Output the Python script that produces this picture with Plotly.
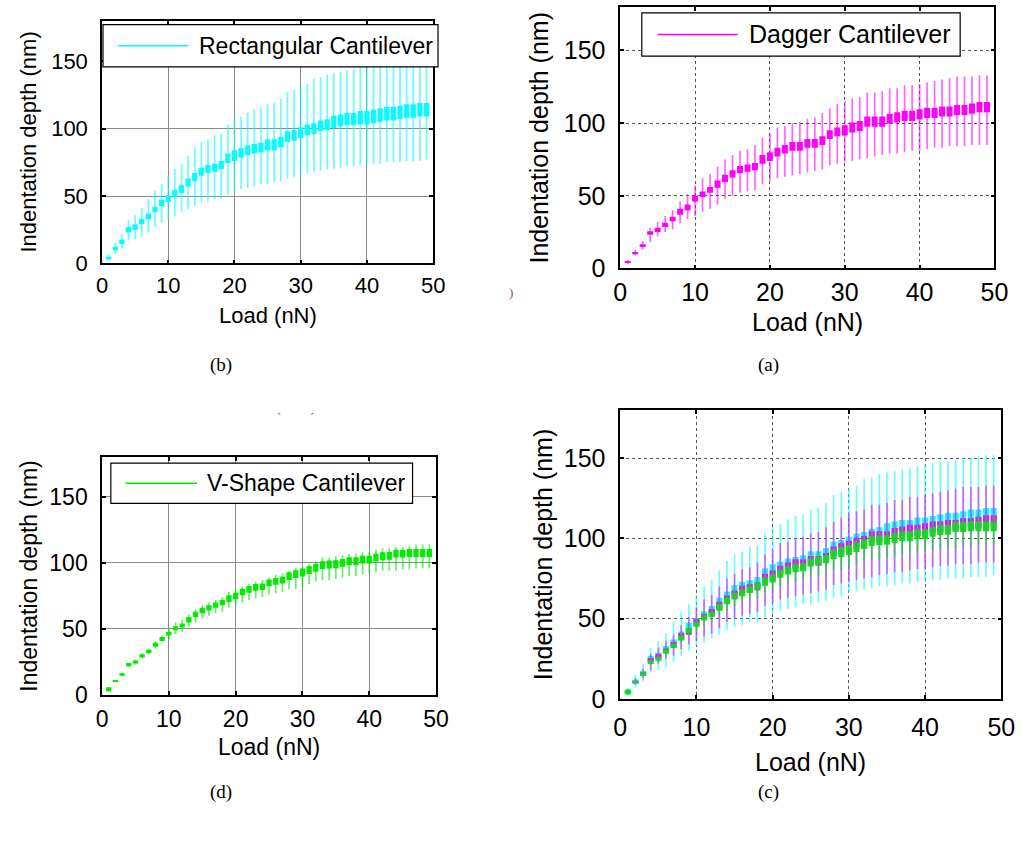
import plotly.graph_objects as go
from plotly.subplots import make_subplots

# figure a little smaller than the 1033x845 window so the page never scrolls
W, H = 1030, 830


def px(x):
    return x / W


def py(y):
    return 1 - y / H


# loads (nN)
loads = list(range(1, 50))

# Rectangular cantilever (cyan): whisker low, box q1, box q3, whisker high
rect_lo = [2, 7, 11, 17, 18, 20, 23, 27, 30, 33, 35, 38, 40, 43, 45, 46, 48, 48, 51, 53,
           55, 56, 57, 59, 59, 60, 61, 63, 64, 66, 67, 68, 69, 70, 70, 71, 72, 72, 73, 73,
           74, 74, 75, 75, 75, 76, 76, 76, 77]
rect_q1 = [3, 9.8, 14.5, 23, 25, 29, 33, 38, 42.5, 45.5, 49.5, 52, 57, 61, 65, 67, 68, 70, 74.5, 76,
           78.5, 80.5, 81.5, 82.5, 84, 84, 86, 90, 91, 93, 95, 96, 98, 99, 100.5, 101.5, 102.5, 102.5, 103, 103,
           104, 105, 106, 106, 107, 108, 108, 109, 109]
rect_q3 = [5, 12.2, 17.5, 27, 29, 33, 37, 42, 47.5, 50.5, 54.5, 58, 63, 67, 71, 73, 74, 76, 81.5, 84,
           85.5, 87.5, 88.5, 89.5, 92, 92, 94, 98, 99, 101, 103, 104, 106, 107, 109.5, 110.5, 111.5, 111.5, 113, 113,
           114, 115, 116, 116, 117, 118, 118, 119, 119]
rect_hi = [7, 15, 22, 32, 36, 41, 48, 54, 59, 65, 70, 74, 80, 86, 90, 92, 95, 96, 103, 107,
           109, 112, 114, 115, 118, 119, 122, 127, 129, 131, 133, 137, 138, 140, 141, 142, 143, 144, 145, 146,
           147, 148, 148, 149, 150, 150, 151, 152, 152]

# Dagger cantilever (magenta)
dag_lo = [3, 9, 13, 18, 22, 25, 27, 31, 34, 36, 39, 41, 44, 48, 50, 52, 53, 54, 58, 60,
          62, 63, 64, 65, 66, 67, 68, 71, 72, 73, 74, 75, 76, 77, 78, 79, 79, 80, 81, 81,
          82, 83, 83, 84, 84, 84, 85, 85, 85]
dag_q1 = [3.9, 9.7, 14.7, 23.1, 25, 28.5, 32.5, 37, 40, 46, 49, 52, 55.5, 59.5, 62.5, 65.5, 66.5, 67.5, 72, 74,
          77, 79, 81, 81, 83, 83, 85, 89, 91, 91.5, 93.5, 94.5, 97.5, 97.5, 97.5, 99.5, 100.5, 101.5, 101.5, 102.5,
          103.5, 103.5, 104.5, 104.5, 105.5, 105.5, 106.5, 107.5, 107.5]
dag_q3 = [4.9, 11.3, 16.7, 25.5, 28, 31.5, 35.5, 41, 44, 50, 53, 56, 60.5, 64.5, 67.5, 70.5, 71.5, 72.5, 78, 80,
          83, 85, 87, 87, 89, 89, 91, 95, 97, 98.5, 100.5, 101.5, 104.5, 104.5, 104.5, 106.5, 107.5, 108.5, 108.5, 109.5,
          110.5, 110.5, 111.5, 111.5, 112.5, 112.5, 113.5, 114.5, 114.5]
dag_hi = [6, 13, 19, 28, 32, 36, 40, 46, 51, 57, 62, 65, 70, 75, 78, 81, 82, 85, 90, 93,
          97, 98, 100, 101, 103, 104, 107, 110, 113, 115, 117, 118, 121, 121, 122, 124, 124, 126, 126, 127,
          128, 129, 130, 131, 132, 132, 132, 133, 133]

# V-shape cantilever (green)
v_lo = [2.5, 9.5, 14, 21.5, 23, 27.5, 31, 35, 40, 42, 46, 48, 52, 55, 58, 60, 62, 63, 66, 68,
        70, 72, 73, 74, 76, 77, 78, 80, 80, 82, 84, 86, 87, 87, 88, 89, 90, 90, 91, 92,
        93, 94, 94, 94, 95, 95, 96, 96, 96]
v_q1 = [2.9, 9.8, 14.6, 21.8, 23.8, 28.4, 31.8, 36.5, 41, 45, 49.1, 51.1, 55, 59, 62, 64, 66, 68, 70.5, 72.5,
        75.5, 77.5, 79, 79.5, 82.5, 83.5, 84.5, 87, 88.5, 89.7, 91.6, 93.4, 95.3, 95.8, 96, 97, 98.3, 98.3, 99.5, 99.5,
        101, 102, 102.3, 104, 104, 104.5, 104.5, 104.5, 104.5]
v_q3 = [5.9, 11.4, 16.6, 24.2, 26.2, 30.8, 34.2, 39.5, 44, 48, 52.1, 54.1, 59, 63, 66, 68, 70, 72, 75.5, 77.5,
        80.5, 82.5, 84, 84.5, 87.5, 88.5, 89.5, 93, 94.5, 95.7, 97.6, 99.4, 101.3, 101.8, 102, 103, 104.3, 104.3, 105.5, 105.5,
        107, 108, 108.3, 110, 110, 110.5, 110.5, 110.5, 110.5]
v_hi = [6, 11.5, 17, 24.5, 27, 32, 35, 41, 45, 51, 55, 57, 61, 65, 68, 70, 72, 74, 78, 80,
        82, 84, 86, 87, 89, 91, 92, 94, 96, 97, 99, 101, 104, 104, 105, 106, 107, 107, 108, 108,
        110, 111, 111, 112, 112, 113, 114, 114, 114]

series = [
    ("Rectangular Cantilever", rect_lo, rect_q1, rect_q3, rect_hi, "#00ffff", "rgba(0,255,255,0.6)"),
    ("Dagger Cantilever", dag_lo, dag_q1, dag_q3, dag_hi, "#ff00ff", "rgba(255,0,255,0.6)"),
    ("V-Shape Cantilever", v_lo, v_q1, v_q3, v_hi, "#00ee00", "rgba(0,230,0,0.6)"),
]

x_ticks = [0, 10, 20, 30, 40, 50]
y_ticks = [0, 50, 100, 150]
captions = ["(b)", "(a)", "(d)", "(c)"]


def add_boxes(fig, s, row, col):
    name, lo, q1, q3, hi, color, wcolor = s
    wx, wy = [], []
    for x, a, b in zip(loads, lo, hi):
        wx += [x, x, None]
        wy += [a, b, None]
    fig.add_trace(go.Scatter(x=wx, y=wy, mode="lines", line=dict(color=wcolor, width=1.7),
                             showlegend=False, hoverinfo="skip"), row=row, col=col)
    fig.add_trace(go.Bar(x=loads, y=[b - a for a, b in zip(q1, q3)], base=q1, width=0.8,
                         marker=dict(color=color, line=dict(width=0)), name=name,
                         showlegend=False), row=row, col=col)


fig = make_subplots(rows=2, cols=2)

# panel placement in page pixels:
# row, col, left, right, top, bottom, font size, grid dash, x-title y, y-title x, x tick standoff
panels = [
    (1, 1, 97, 435, 21, 268, 22, "solid", 321, 22, 1),
    (1, 2, 626, 1008, 7, 273, 25, "dot", 328, 543, 1),
    (2, 1, 97, 438, 465, 707, 23, "solid", 760, 23, 3),
    (2, 2, 626, 1015, 417, 711, 25, "dot", 775, 548, 5),
]

add_boxes(fig, series[0], 1, 1)
add_boxes(fig, series[1], 1, 2)
add_boxes(fig, series[2], 2, 1)
for s in series:
    add_boxes(fig, s, 2, 2)

annotations = []
shapes = []
for r, c, x0, x1, y0, y1, fs, dash, xt_y, yt_x, xso in panels:
    common = dict(showline=True, linecolor="black", linewidth=1.5, mirror="ticks",
                  ticks="inside", ticklen=4, tickwidth=1.5, tickcolor="black",
                  showgrid=True, gridcolor="#8c8c8c" if dash == "solid" else "#555555",
                  griddash=dash, gridwidth=1, zeroline=False,
                  tickfont=dict(size=fs, color="black"))
    fig.update_xaxes(domain=[px(x0), px(x1)], range=[0, 50], tickvals=x_ticks,
                     ticklabelstandoff=xso, row=r, col=c, **common)
    fig.update_yaxes(domain=[py(y1), py(y0)], range=[0, 180], tickvals=y_ticks,
                     ticklabelstandoff=8, row=r, col=c, **common)
    # axis titles
    annotations.append(dict(text="Load (nN)", x=px((x0 + x1) / 2), y=py(xt_y),
                            xref="paper", yref="paper", showarrow=False,
                            font=dict(size=fs, color="black"), xanchor="center", yanchor="middle"))
    annotations.append(dict(text="Indentation depth (nm)", x=px(yt_x), y=py((y0 + y1) / 2),
                            xref="paper", yref="paper", showarrow=False,
                            textangle=-90, font=dict(size=fs, color="black"),
                            xanchor="center", yanchor="middle"))

# captions under each panel
for txt, cx, cy in zip(captions, [218, 777, 218, 777], [371, 371, 806, 806]):
    annotations.append(dict(text=txt, x=px(cx), y=py(cy), xref="paper", yref="paper",
                            showarrow=False, font=dict(family="Liberation Serif", size=19, color="black"),
                            xanchor="center", yanchor="middle"))

# stray marks from the scanned figure
for txt, cx, cy in [(")", 514, 298), ("`", 278, 425), ("´", 311, 425)]:
    annotations.append(dict(text=txt, x=px(cx), y=py(cy), xref="paper", yref="paper",
                            showarrow=False, font=dict(family="Liberation Serif", size=13, color="#666666"),
                            xanchor="center", yanchor="middle"))

# hand-drawn legends: (box l, r, t, b, line x0, x1, text x, size, series idx)
legends = [
    (98, 440, 25, 68, 113, 185, 194, 23, 0),
    (648, 973, 13, 57, 664, 746, 755, 25, 1),
    (106, 414, 471, 512, 121, 194, 202, 23, 2),
]
for bl, br, bt, bb, lx0, lx1, tx, fs, k in legends:
    shapes.append(dict(type="rect", xref="paper", yref="paper", x0=px(bl), x1=px(br),
                       y0=py(bb), y1=py(bt), line=dict(color="black", width=1.2),
                       fillcolor="white", layer="above"))
    ym = (bt + bb) / 2
    shapes.append(dict(type="line", xref="paper", yref="paper", x0=px(lx0), x1=px(lx1),
                       y0=py(ym), y1=py(ym), line=dict(color=series[k][5], width=1.5)))
    annotations.append(dict(text=series[k][0], x=px(tx), y=py(ym), xref="paper", yref="paper",
                            showarrow=False, font=dict(size=fs, color="black"),
                            xanchor="left", yanchor="middle"))

fig.update_layout(width=W, height=H, margin=dict(l=0, r=0, t=0, b=0),
                  paper_bgcolor="white", plot_bgcolor="white", barmode="overlay",
                  font=dict(family="Liberation Sans, Arial", color="black"),
                  annotations=annotations, shapes=shapes, showlegend=False)

# no page margin or scrollbars, so the figure sits at the window's top-left corner
fig.write_html("out.html", config={"displayModeBar": False},
               post_script="document.body.style.margin = '0px'; document.body.style.overflow = 'hidden';")
